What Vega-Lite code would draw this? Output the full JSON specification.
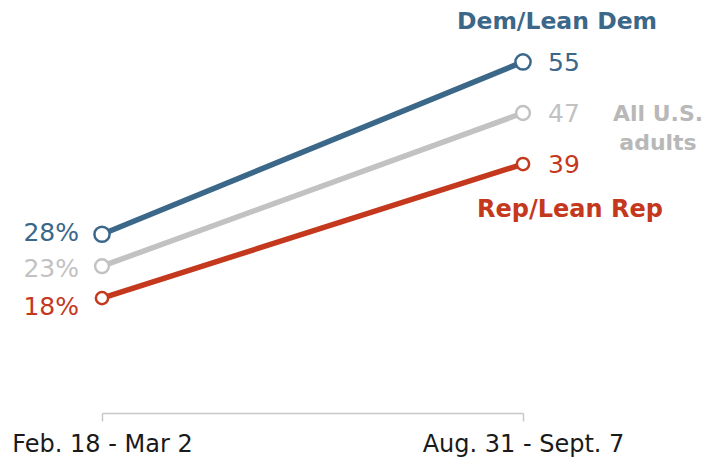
{
  "$schema": "https://vega.github.io/schema/vega-lite/v6.json",
  "width": 421,
  "height": 383,
  "autosize": {"type": "none"},
  "padding": {"left": 102, "top": 30, "right": 193, "bottom": 45},
  "background": "white",
  "config": {"view": {"stroke": null}},
  "data": {"values": [
    {"period": "Feb. 18 - Mar 2", "group": "Dem/Lean Dem", "value": 28, "label": "28%"},
    {"period": "Aug. 31 - Sept. 7", "group": "Dem/Lean Dem", "value": 55, "label": "55"},
    {"period": "Feb. 18 - Mar 2", "group": "All U.S. adults", "value": 23, "label": "23%"},
    {"period": "Aug. 31 - Sept. 7", "group": "All U.S. adults", "value": 47, "label": "47"},
    {"period": "Feb. 18 - Mar 2", "group": "Rep/Lean Rep", "value": 18, "label": "18%"},
    {"period": "Aug. 31 - Sept. 7", "group": "Rep/Lean Rep", "value": 39, "label": "39"}
  ]},
  "encoding": {
    "x": {"field": "period", "type": "ordinal", "sort": ["Feb. 18 - Mar 2", "Aug. 31 - Sept. 7"],
      "scale": {"type": "point", "padding": 0},
      "axis": {"title": null, "labelAngle": 0, "labelFont": "DejaVu Sans", "labelFontSize": 24, "labelColor": "#1a1a1a", "labelLimit": 0,
        "domainColor": "#c8c8c8", "tickColor": "#c8c8c8", "tickSize": 8, "labelPadding": 11, "domainWidth": 1.5, "tickWidth": 1.5}},
    "y": {"field": "value", "type": "quantitative", "scale": {"domain": [0, 60]}, "axis": null},
    "color": {"field": "group", "type": "nominal",
      "scale": {"domain": ["Dem/Lean Dem", "All U.S. adults", "Rep/Lean Rep"], "range": ["#3b6789", "#c2c2c2", "#c4391d"]},
      "legend": null}
  },
  "layer": [
    {"mark": {"type": "line", "strokeWidth": 5.5}, "encoding": {"detail": {"field": "group"}}},
    {"mark": {"type": "point", "filled": false, "strokeWidth": 2.5, "opacity": 1},
      "encoding": {"fill": {"value": "white"},
        "size": {"field": "group", "type": "nominal", "scale": {"domain": ["Dem/Lean Dem", "All U.S. adults", "Rep/Lean Rep"], "range": [230, 150, 230]}, "legend": null}}},
    {"transform": [{"filter": "datum.period == 'Feb. 18 - Mar 2' && datum.group == 'Dem/Lean Dem'"}],
      "mark": {"type": "text", "align": "right", "baseline": "middle", "dx": -23, "dy": -1, "font": "DejaVu Sans", "fontSize": 25},
      "encoding": {"text": {"field": "label"}}},
    {"transform": [{"filter": "datum.period == 'Feb. 18 - Mar 2' && datum.group == 'All U.S. adults'"}],
      "mark": {"type": "text", "align": "right", "baseline": "middle", "dx": -23, "dy": 3, "font": "DejaVu Sans", "fontSize": 25},
      "encoding": {"text": {"field": "label"}}},
    {"transform": [{"filter": "datum.period == 'Feb. 18 - Mar 2' && datum.group == 'Rep/Lean Rep'"}],
      "mark": {"type": "text", "align": "right", "baseline": "middle", "dx": -23, "dy": 9, "font": "DejaVu Sans", "fontSize": 25},
      "encoding": {"text": {"field": "label"}}},
    {"transform": [{"filter": "datum.period == 'Aug. 31 - Sept. 7'"}],
      "mark": {"type": "text", "align": "left", "baseline": "middle", "dx": 25, "dy": 1, "font": "DejaVu Sans", "fontSize": 25},
      "encoding": {"text": {"field": "label"}}},
    {"transform": [{"filter": "datum.period == 'Aug. 31 - Sept. 7' && datum.group == 'Dem/Lean Dem'"}],
      "mark": {"type": "text", "align": "center", "baseline": "middle", "dx": 34, "dy": -40, "font": "DejaVu Sans", "fontSize": 23.5, "fontWeight": "bold"},
      "encoding": {"text": {"field": "group"}}},
    {"transform": [{"filter": "datum.period == 'Aug. 31 - Sept. 7' && datum.group == 'Rep/Lean Rep'"}],
      "mark": {"type": "text", "align": "center", "baseline": "middle", "dx": 47, "dy": 46, "font": "DejaVu Sans", "fontSize": 24, "fontWeight": "bold"},
      "encoding": {"text": {"field": "group"}}},
    {"transform": [{"filter": "datum.period == 'Aug. 31 - Sept. 7' && datum.group == 'All U.S. adults'"}],
      "mark": {"type": "text", "align": "center", "baseline": "middle", "dx": 135, "dy": 1, "lineHeight": 29, "font": "DejaVu Sans", "fontSize": 22, "fontWeight": "bold"},
      "encoding": {"text": {"value": ["All U.S.", "adults"]}, "color": {"value": "#b8b8b8"}}}
  ]
}
